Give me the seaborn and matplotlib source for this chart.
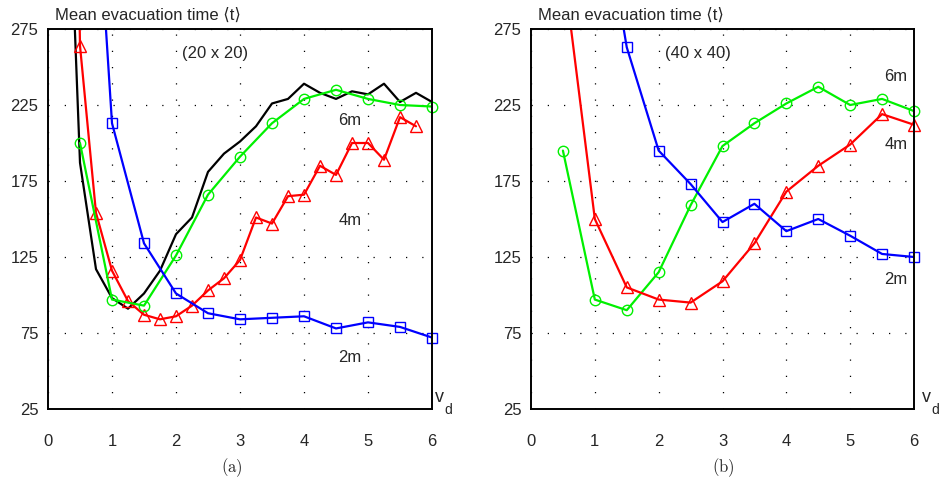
import numpy as np
import pandas as pd
import matplotlib
matplotlib.use("Agg")
import matplotlib.pyplot as plt
import seaborn as sns

# ---------------- data ----------------
# Panel (a): 20 x 20
a_x_quarter = [0.25, 0.5, 0.75, 1.0, 1.25, 1.5, 1.75, 2.0, 2.25, 2.5, 2.75, 3.0,
               3.25, 3.5, 3.75, 4.0, 4.25, 4.5, 4.75, 5.0, 5.25, 5.5, 5.75, 6.0]
a_black = [460, 187, 117, 98, 91, 101, 116, 140, 151, 181, 193, 201,
           211, 226, 229, 239, 233, 229, 234, 232, 239, 227, 233, 227]
a_red_x = [0.25, 0.5, 0.75, 1.0, 1.25, 1.5, 1.75, 2.0, 2.25, 2.5, 2.75, 3.0,
           3.25, 3.5, 3.75, 4.0, 4.25, 4.5, 4.75, 5.0, 5.25, 5.5, 5.75]
a_red = [900, 264, 154, 116, 96, 87, 84, 86, 93, 103, 111, 123,
         151, 147, 165, 166, 185, 179, 200, 200, 189, 217, 211]
a_green_x = [0.5, 1.0, 1.5, 2.0, 2.5, 3.0, 3.5, 4.0, 4.5, 5.0, 5.5, 6.0]
a_green = [200, 97, 93, 126, 166, 191, 213, 229, 235, 229, 225, 224]
a_blue_x = [0.5, 1.0, 1.5, 2.0, 2.5, 3.0, 3.5, 4.0, 4.5, 5.0, 5.5, 6.0]
a_blue = [541, 213, 134, 101, 88, 84, 85, 86, 78, 82, 79, 72]

# Panel (b): 40 x 40
b_x = [0.5, 1.0, 1.5, 2.0, 2.5, 3.0, 3.5, 4.0, 4.5, 5.0, 5.5, 6.0]
b_green = [195, 97, 90, 115, 159, 198, 213, 226, 237, 225, 229, 221]
b_red = [318, 150, 105, 97, 95, 109, 134, 168, 185, 199, 219, 212]
b_blue_x = [0.5, 1.0, 1.5, 2.0, 2.5, 3.0, 3.5, 4.0, 4.5, 5.0, 5.5, 6.0]
b_blue = [700, 389, 263, 195, 173, 148, 160, 142, 150, 139, 127, 125]

x_ticks = [0, 1, 2, 3, 4, 5, 6]
y_ticks = [25, 75, 125, 175, 225, 275]
title_text = "Mean evacuation time \u27e8t\u27e9"
panel_a_label = "(20 x 20)"
panel_b_label = "(40 x 40)"

# ---------------- style ----------------
sns.set_style("white")
plt.rcParams["font.family"] = ["Liberation Sans", "DejaVu Sans"]
plt.rcParams["mathtext.fontset"] = "cm"

fig = plt.figure(figsize=(9.42, 4.92), dpi=100)
axA = fig.add_axes([48 / 942, 83 / 492, 384 / 942, 380 / 492])
axB = fig.add_axes([531 / 942, 83 / 492, 383 / 942, 380 / 492])

BLUE, RED, GREEN = "#0000ff", "#ff0000", "#00f000"
LW = 1.6
YMIN, YMAX = 25, 275


def series(ax, x, y, color, marker=None, ms=7):
    df = pd.DataFrame({"x": x, "y": y})
    sns.lineplot(data=df, x="x", y="y", ax=ax, sort=False, estimator=None,
                 color=color, linewidth=LW)
    if marker is not None:
        vis = df[(df["y"] >= YMIN) & (df["y"] <= YMAX)]
        n0 = len(ax.lines)
        sns.lineplot(data=vis, x="x", y="y", ax=ax, sort=False, estimator=None,
                     linestyle="", marker=marker, markersize=ms,
                     markerfacecolor="none", markeredgecolor=color,
                     markeredgewidth=1.0, color=color)
        for l in ax.lines[n0:]:
            l.set_clip_on(False)


# Panel (a)
series(axA, a_x_quarter, a_black, "black")
series(axA, a_red_x, a_red, RED, "^", 8.5)
series(axA, a_green_x, a_green, GREEN, "o", 7.5)
series(axA, a_blue_x, a_blue, BLUE, "s", 6.5)

# Panel (b)
series(axB, b_x, b_green, GREEN, "o", 7.5)
series(axB, b_x, b_red, RED, "^", 8.5)
series(axB, b_blue_x, b_blue, BLUE, "s", 6.5)

for ax in (axA, axB):
    ax.set_xlim(0, 6)
    ax.set_ylim(YMIN, YMAX)
    ax.set_xticks(x_ticks)
    ax.set_yticks(y_ticks)
    ax.set_xticklabels([str(t) for t in x_ticks])
    ax.set_yticklabels([str(t) for t in y_ticks])
    ax.set_xlabel("")
    ax.set_ylabel("")
    ax.grid(True, linestyle=(0, (1, 12)), color="black", linewidth=0.9)
    ax.tick_params(axis="both", length=0, labelsize=12)
    ax.tick_params(axis="x", pad=18)
    ax.tick_params(axis="y", pad=7)
    for s in ax.spines.values():
        s.set_visible(True)
        s.set_color("black")
        s.set_linewidth(1.4)

# Annotations panel (a)
axA.text(2.61, 259, panel_a_label, ha="center", va="center", fontsize=12)
axA.text(4.72, 215, "6m", ha="center", va="center", fontsize=12)
axA.text(4.72, 149, "4m", ha="center", va="center", fontsize=12)
axA.text(4.72, 59, "2m", ha="center", va="center", fontsize=12)

# Annotations panel (b)
axB.text(2.61, 259, panel_b_label, ha="center", va="center", fontsize=12)
axB.text(5.72, 244, "6m", ha="center", va="center", fontsize=12)
axB.text(5.72, 199, "4m", ha="center", va="center", fontsize=12)
axB.text(5.72, 110, "2m", ha="center", va="center", fontsize=12)


def ftext(px, py, s, **kw):
    fig.text(px / 942, 1 - py / 492, s, **kw)


ftext(55, 15, title_text, ha="left", va="center", fontsize=12,
      family=["Liberation Sans", "DejaVu Sans"])
ftext(538, 15, title_text, ha="left", va="center", fontsize=12,
      family=["Liberation Sans", "DejaVu Sans"])

for vx in (439, 926):
    ftext(vx, 398, "v", ha="center", va="center", fontsize=13)
    ftext(vx + 9, 410, "d", ha="center", va="center", fontsize=10)

ftext(232, 468, r"$\mathrm{(a)}$", ha="center", va="center", fontsize=12)
ftext(723, 468, r"$\mathrm{(b)}$", ha="center", va="center", fontsize=12)

fig.savefig("out.png", dpi=100)
